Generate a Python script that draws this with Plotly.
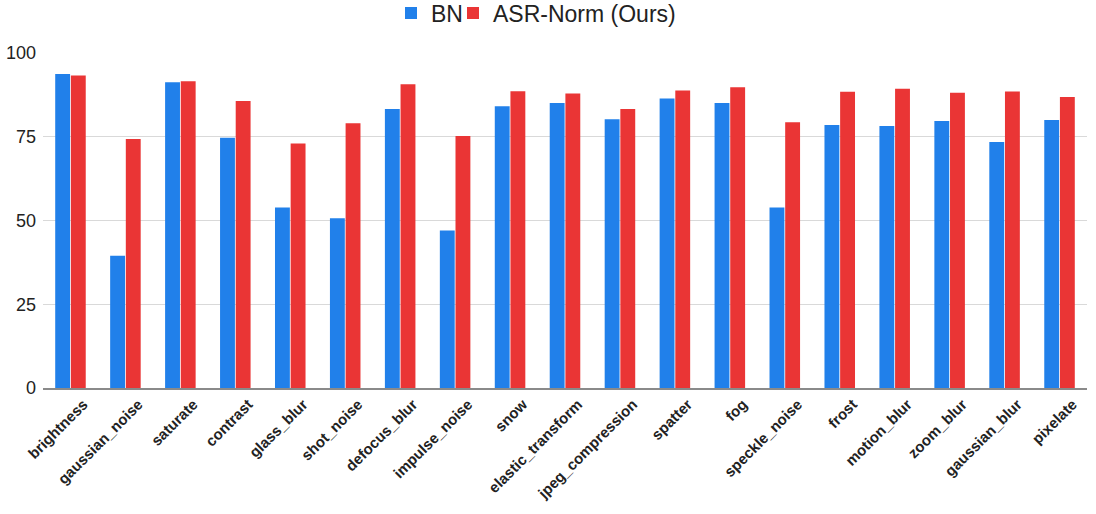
import plotly.graph_objects as go

categories = ["brightness", "gaussian_noise", "saturate", "contrast", "glass_blur",
              "shot_noise", "defocus_blur", "impulse_noise", "snow", "elastic_transform",
              "jpeg_compression", "spatter", "fog", "speckle_noise", "frost",
              "motion_blur", "zoom_blur", "gaussian_blur", "pixelate"]
bn = [93.7, 39.5, 91.3, 74.7, 53.9, 50.7, 83.3, 47.0, 84.1, 85.1,
      80.2, 86.4, 85.1, 53.9, 78.5, 78.2, 79.7, 73.4, 80.0]
asr = [93.3, 74.3, 91.6, 85.7, 73.0, 79.0, 90.7, 75.2, 88.6, 87.9,
       83.3, 88.8, 89.8, 79.3, 88.4, 89.3, 88.1, 88.5, 86.9]
y_ticks = [0, 25, 50, 75, 100]

fig = go.Figure()
fig.add_trace(go.Bar(name="BN", x=categories, y=bn, marker_color="#2180ea",
                     marker_line_width=0, legend="legend"))
fig.add_trace(go.Bar(name="ASR-Norm (Ours)", x=categories, y=asr, marker_color="#ea3535",
                     marker_line_width=0, legend="legend2"))

legend_common = dict(orientation="h", xanchor="left", xref="container",
                     y=1 - 13 / 514, yanchor="middle", yref="container",
                     font=dict(size=23), itemwidth=30, bgcolor="rgba(0,0,0,0)")

fig.update_layout(
    width=1096, height=514,
    barmode="group", bargap=0.43, bargroupgap=0.05,
    plot_bgcolor="white", paper_bgcolor="white",
    margin=dict(l=43, r=9, t=53, b=126, autoexpand=False),
    font=dict(family="Liberation Sans, Arial, sans-serif", color="#222222"),
    legend=dict(x=391 / 1096, **legend_common),
    legend2=dict(x=453 / 1096, **legend_common),
    showlegend=True,
)
fig.update_xaxes(tickangle=-45, automargin=False, ticklabelshift=13,
                 tickfont=dict(size=15, family="Liberation Sans, Arial, sans-serif", weight="bold"),
                 showline=True, linecolor="#8a8a8a", linewidth=1.5, ticks="", showgrid=False)
fig.update_yaxes(range=[0, 100], tickvals=y_ticks, tickfont=dict(size=18), automargin=False,
                 ticklabelstandoff=6,
                 showgrid=True, gridcolor="#d9d9d9", gridwidth=1, zeroline=False,
                 ticks="", ticklen=0)

fig.write_html("out.html", config={"displayModeBar": False},
               post_script="document.body.style.margin='0';")
